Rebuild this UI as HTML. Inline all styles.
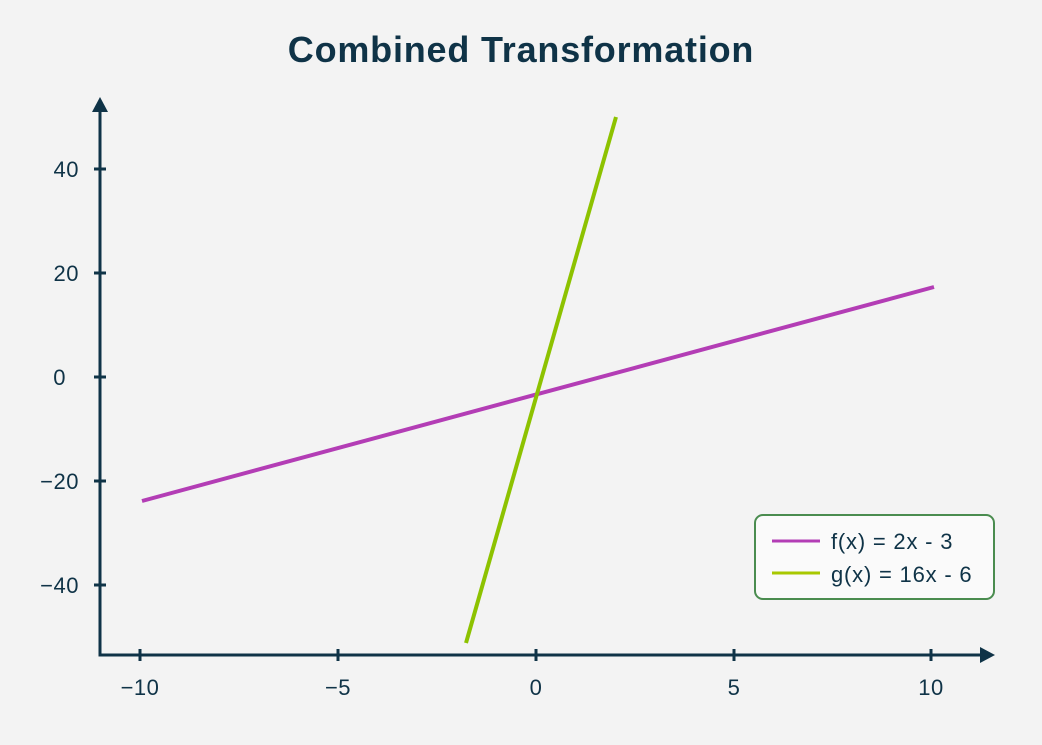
<!DOCTYPE html>
<html><head><style>body{margin:0;background:#f3f3f3}svg{display:block}</style></head><body>
<svg width="1042" height="745" xmlns="http://www.w3.org/2000/svg" font-family="Liberation Sans, sans-serif">
<rect width="1042" height="745" fill="#f3f3f3"/>
<text x="521" y="62" text-anchor="middle" font-size="36" font-weight="bold" letter-spacing="0.8" fill="#0f3347">Combined Transformation</text>
<g stroke="#0f3347" stroke-width="3">
<line x1="100" y1="110" x2="100" y2="655"/>
<line x1="98.5" y1="655" x2="982" y2="655"/>
<line x1="140" y1="649" x2="140" y2="661"/><line x1="338" y1="649" x2="338" y2="661"/><line x1="536" y1="649" x2="536" y2="661"/><line x1="734" y1="649" x2="734" y2="661"/><line x1="931" y1="649" x2="931" y2="661"/>
<line x1="94" y1="169" x2="106" y2="169"/><line x1="94" y1="273" x2="106" y2="273"/><line x1="94" y1="377" x2="106" y2="377"/><line x1="94" y1="481" x2="106" y2="481"/><line x1="94" y1="585" x2="106" y2="585"/>
</g>
<polygon points="100,97 92,112 108,112" fill="#0f3347"/>
<polygon points="995,655 980,647 980,663" fill="#0f3347"/>
<g font-size="22" fill="#0f3347" text-anchor="end" letter-spacing="0.5">
<text x="79" y="177">40</text><text x="79" y="281">20</text><text x="66" y="385">0</text><text x="79" y="489">−20</text><text x="79" y="593">−40</text>
</g>
<g font-size="22" fill="#0f3347" text-anchor="middle" letter-spacing="0.5">
<text x="140" y="695">−10</text><text x="338" y="695">−5</text><text x="536" y="695">0</text><text x="734" y="695">5</text><text x="931" y="695">10</text>
</g>
<line x1="142" y1="501" x2="934" y2="287" stroke="#b33db5" stroke-width="4"/>
<line x1="466" y1="643" x2="616" y2="117" stroke="#8dc200" stroke-width="4"/>
<rect x="755" y="515" width="239" height="84" rx="8" fill="#fafafa" stroke="#4a8c4f" stroke-width="2"/>
<line x1="772" y1="541" x2="820" y2="541" stroke="#b33db5" stroke-width="3"/>
<line x1="772" y1="573" x2="820" y2="573" stroke="#a8c800" stroke-width="3"/>
<text x="831" y="549" font-size="22" letter-spacing="0.8" fill="#0f3347">f(x) = 2x - 3</text>
<text x="831" y="582" font-size="22" letter-spacing="0.8" fill="#0f3347">g(x) = 16x - 6</text>
</svg>
</body></html>
